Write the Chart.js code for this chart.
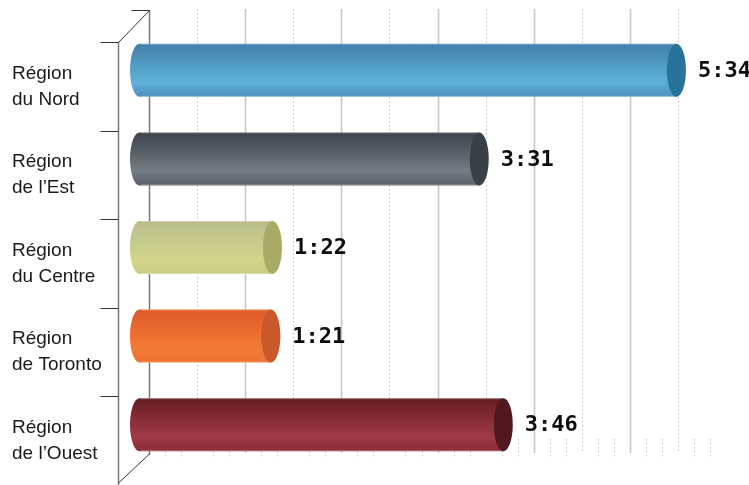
<!DOCTYPE html>
<html>
<head>
<meta charset="utf-8">
<script src="https://cdn.jsdelivr.net/npm/chart.js@4.4.0/dist/chart.umd.min.js"></script>
<style>
  body { margin: 0; background: #fff; }
  #wrap { width: 749px; height: 485px; }
</style>
</head>
<body>
<div id="wrap"><canvas id="chart"></canvas></div>
<script>
// data
const regions = [
    ['Région', 'du Nord'],
    ['Région', 'de l\u2019Est'],
    ['Région', 'du Centre'],
    ['Région', 'de Toronto'],
    ['Région', 'de l\u2019Ouest']
];
const seconds = [334, 211, 82, 81, 226];
const timeLabels = ['5:34', '3:31', '1:22', '1:21', '3:46'];
const axisMax = 330;

// cylinder colours: top, light band, bottom, end cap
const topColors = ['#4280aa', '#3c4249', '#b9bc8b', '#df5a28', '#651c23'];
const midColors = ['#5eb1da', '#757c84', '#d2d68a', '#f37a36', '#a13a48'];
const bottomColors = ['#4c91bc', '#5b6168', '#c9cd86', '#ee7232', '#8a2d3a'];
const capColors = ['#27739a', '#3b4046', '#a8aa66', '#c9582a', '#521820'];

// 3D offsets of the back wall and the front edge relative to the bars
const BACK_DX = 8, BACK_DY = -16;
const FRONT_DX = -23, FRONT_DY = 16;

// Back wall, gridlines and frame
const wallPlugin = {
    id: 'wall',
    beforeDatasetsDraw(chart) {
        const ctx = chart.ctx;
        const xs = chart.scales.x;
        const area = chart.chartArea;
        const backTop = area.top + BACK_DY;
        const backBottom = area.bottom + BACK_DY;
        ctx.save();

        // floor ticks every 10 s
        ctx.strokeStyle = '#c4c4c4';
        ctx.lineWidth = 1;
        ctx.setLineDash([1.5, 2.5]);
        for (let v = 10; v <= 350; v += 10) {
            if (v % 30 === 0) continue;
            const x = Math.round(xs.getPixelForValue(v) + BACK_DX) + 0.5;
            ctx.beginPath();
            ctx.moveTo(x, backBottom - 14);
            ctx.lineTo(x, backBottom + 4);
            ctx.stroke();
        }

        // gridlines on the back wall
        for (let v = 30; v <= axisMax; v += 30) {
            const x = Math.round(xs.getPixelForValue(v) + BACK_DX) + 0.5;
            ctx.beginPath();
            if (v % 60 === 0) {
                ctx.setLineDash([]);
                ctx.strokeStyle = '#c6c6c6';
                ctx.lineWidth = 1.6;
            } else {
                ctx.setLineDash([1.5, 2.5]);
                ctx.strokeStyle = '#bdbdbd';
                ctx.lineWidth = 1;
            }
            ctx.moveTo(x, backTop - 1);
            ctx.lineTo(x, backBottom);
            ctx.stroke();
        }
        ctx.setLineDash([]);

        const x0 = xs.getPixelForValue(0);
        const backX = Math.round(x0 + BACK_DX) + 0.5;
        const frontX = Math.round(x0 + FRONT_DX) + 0.5;
        const frontTop = area.top + FRONT_DY;
        const frontBottom = area.bottom + FRONT_DY;

        // back wall edge
        ctx.strokeStyle = '#7a7a7a';
        ctx.lineWidth = 1.5;
        ctx.beginPath();
        ctx.moveTo(backX, backTop);
        ctx.lineTo(backX, backBottom + 2);
        ctx.stroke();

        // front axis line
        ctx.beginPath();
        ctx.moveTo(frontX, frontTop);
        ctx.lineTo(frontX, frontBottom);
        ctx.stroke();

        // category ticks on the front edge
        ctx.strokeStyle = '#333';
        ctx.lineWidth = 1;
        const band = (area.bottom - area.top) / regions.length;
        for (let i = 0; i < regions.length; i++) {
            const y = Math.round(area.top + i * band + FRONT_DY) + 0.5;
            ctx.beginPath();
            ctx.moveTo(frontX - 18, y);
            ctx.lineTo(frontX, y);
            ctx.stroke();
        }

        // top and bottom diagonals
        ctx.beginPath();
        ctx.moveTo(frontX, frontTop + 0.5);
        ctx.lineTo(backX, backTop + 0.5);
        ctx.lineTo(backX - 18, backTop + 0.5);
        ctx.stroke();
        ctx.beginPath();
        ctx.moveTo(backX, backBottom + 1);
        ctx.lineTo(frontX, frontBottom - 2);
        ctx.stroke();

        ctx.restore();
    }
};

// Cylinders drawn from the bar elements
const cylinderPlugin = {
    id: 'cylinders',
    afterDatasetsDraw(chart) {
        const ctx = chart.ctx;
        const meta = chart.getDatasetMeta(0);
        ctx.save();
        meta.data.forEach((bar, i) => {
            const { x, y, base, height } = bar.getProps(['x', 'y', 'base', 'height'], true);
            const top = y - height / 2;
            const bottom = y + height / 2;
            const rx = 9.5;
            const ry = height / 2;

            const grad = ctx.createLinearGradient(0, top, 0, bottom);
            grad.addColorStop(0, topColors[i]);
            grad.addColorStop(0.72, midColors[i]);
            grad.addColorStop(1, bottomColors[i]);

            ctx.beginPath();
            ctx.moveTo(base, top);
            ctx.lineTo(x, top);
            ctx.lineTo(x, bottom);
            ctx.lineTo(base, bottom);
            ctx.ellipse(base - 1.5, y, rx, ry, 0, Math.PI / 2, Math.PI * 1.5);
            ctx.closePath();
            ctx.fillStyle = grad;
            ctx.fill();

            // faint edge highlights
            ctx.strokeStyle = 'rgba(255,255,255,0.3)';
            ctx.lineWidth = 1;
            ctx.beginPath();
            ctx.moveTo(base, top + 0.5);
            ctx.lineTo(x, top + 0.5);
            ctx.moveTo(base, bottom - 0.5);
            ctx.lineTo(x, bottom - 0.5);
            ctx.stroke();

            // end cap
            ctx.beginPath();
            ctx.ellipse(x, y, rx, ry, 0, 0, Math.PI * 2);
            ctx.fillStyle = capColors[i];
            ctx.fill();

            // value label
            ctx.fillStyle = '#0d0d0d';
            ctx.font = 'bold 22px "DejaVu Sans Mono", "Liberation Mono", monospace';
            ctx.textAlign = 'left';
            ctx.textBaseline = 'middle';
            ctx.fillText(timeLabels[i], x + rx + 12, y + 1);
        });
        ctx.restore();
    }
};

new Chart(document.getElementById('chart'), {
    type: 'bar',
    data: {
        labels: regions,
        datasets: [{
            data: seconds,
            backgroundColor: 'rgba(0,0,0,0)',
            borderWidth: 0,
            barThickness: 53
        }]
    },
    options: {
        indexAxis: 'y',
        responsive: true,
        maintainAspectRatio: false,
        animation: false,
        layout: {
            padding: { left: 12, top: 26, right: 79, bottom: 16 }
        },
        scales: {
            x: {
                display: false,
                min: 0,
                max: axisMax
            },
            y: {
                position: 'left',
                grid: { display: false, drawTicks: false },
                border: { display: false },
                afterFit: function(scale) {
                    scale.width = 129;
                    scale.paddingTop = 0;
                    scale.paddingBottom = 0;
                },
                ticks: {
                    crossAlign: 'far',
                    padding: 0,
                    labelOffset: 16,
                    color: '#1a1a1a',
                    font: { family: '"Liberation Sans", Arial, sans-serif', size: 19, lineHeight: 1.37 }
                }
            }
        },
        plugins: {
            legend: { display: false },
            tooltip: { enabled: false }
        }
    },
    plugins: [wallPlugin, cylinderPlugin]
});
</script>
</body>
</html>
